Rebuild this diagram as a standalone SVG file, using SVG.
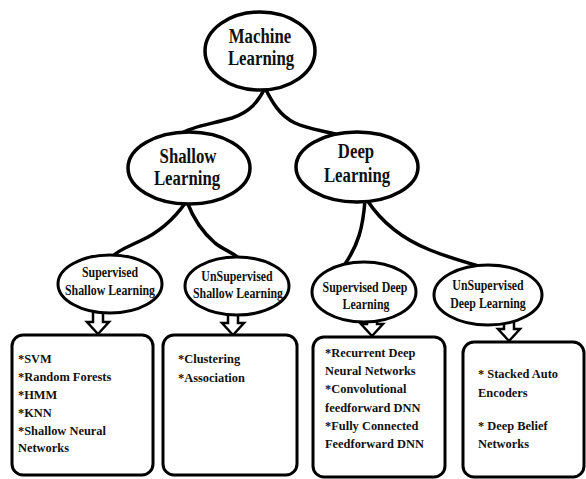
<svg xmlns="http://www.w3.org/2000/svg" width="586" height="479" viewBox="0 0 586 479">
<style>
  .bg { fill: #ffffff; }
  .node { fill: #ffffff; stroke: #000000; stroke-width: 3.5; }
  .snode { fill: #ffffff; stroke: #000000; stroke-width: 3; }
  .box { fill: #ffffff; stroke: #000000; stroke-width: 3; }
  .edge { fill: none; stroke: #000000; stroke-width: 3.5; stroke-linecap: round; }
  .arrow { fill: #ffffff; stroke: #000000; stroke-width: 2.5; stroke-linejoin: miter; }
  .big { font-family: "Liberation Serif", "Times New Roman", serif; font-weight: bold; font-size: 20px; fill: #111111; text-anchor: middle; }
  .mid { font-family: "Liberation Serif", "Times New Roman", serif; font-weight: bold; font-size: 14.5px; fill: #111111; text-anchor: middle; }
  .item { font-family: "Liberation Serif", "Times New Roman", serif; font-weight: bold; font-size: 13.5px; fill: #111111; }
</style>
<defs>
  <path id="down" d="M-5,-22 L5,-22 L5,-12 L11,-12 L0,0 L-11,-12 L-5,-12 Z"/>
</defs>
<rect class="bg" x="0" y="0" width="586" height="479"/>

<g id="connectors">
  <path class="edge" d="M265,88 C258,102 250,112 232,118 C212,124 192,126 180,134"/>
  <path class="edge" d="M265,88 C272,102 280,116 295,123 C308,129 320,130 335,134"/>
  <path class="edge" d="M186,202 C172,222 158,233 140,241 C128,247 118,250 112,257"/>
  <path class="edge" d="M187,202 C194,220 202,232 215,243 C224,250 232,252 240,259"/>
  <path class="edge" d="M365,200 C363,228 358,245 345,264"/>
  <path class="edge" d="M367,200 C380,220 400,238 430,250 C450,258 465,262 482,267"/>
  <use href="#down" class="arrow" transform="translate(98,334)"/>
  <use href="#down" class="arrow" transform="translate(233,335)"/>
  <use href="#down" class="arrow" transform="translate(372,336)"/>
  <use href="#down" class="arrow" transform="translate(509,341)"/>
</g>

<g id="machine-learning">
  <ellipse class="node" cx="260" cy="51" rx="55" ry="39"/>
  <text class="big" transform="translate(260,0) scale(0.84,1)" x="0" y="43">Machine</text>
  <text class="big" transform="translate(261,0) scale(0.84,1)" x="0" y="65">Learning</text>
</g>

<g id="shallow-learning">
  <ellipse class="node" cx="189" cy="168" rx="61" ry="36"/>
  <text class="big" transform="translate(188,0) scale(0.84,1)" x="0" y="163">Shallow</text>
  <text class="big" transform="translate(187,0) scale(0.84,1)" x="0" y="185">Learning</text>
</g>

<g id="deep-learning">
  <ellipse class="node" cx="357" cy="167" rx="61" ry="35"/>
  <text class="big" transform="translate(356,0) scale(0.84,1)" x="0" y="158">Deep</text>
  <text class="big" transform="translate(357,0) scale(0.84,1)" x="0" y="182">Learning</text>
</g>

<g id="supervised-shallow">
  <ellipse class="snode" cx="110" cy="284" rx="52" ry="29"/>
  <text class="mid" transform="translate(110,0) scale(0.82,1)" x="0" y="277">Supervised</text>
  <text class="mid" transform="translate(110,0) scale(0.82,1)" x="0" y="295">Shallow Learning</text>
</g>

<g id="unsupervised-shallow">
  <ellipse class="snode" cx="237" cy="286" rx="52" ry="29"/>
  <text class="mid" transform="translate(237,0) scale(0.82,1)" x="0" y="281">UnSupervised</text>
  <text class="mid" transform="translate(238,0) scale(0.82,1)" x="0" y="298">Shallow Learning</text>
</g>

<g id="supervised-deep">
  <ellipse class="snode" cx="364" cy="292" rx="52" ry="30"/>
  <text class="mid" transform="translate(365,0) scale(0.82,1)" x="0" y="292">Supervised Deep</text>
  <text class="mid" transform="translate(366,0) scale(0.82,1)" x="0" y="309">Learning</text>
</g>

<g id="unsupervised-deep">
  <ellipse class="snode" cx="488" cy="295" rx="54" ry="30"/>
  <text class="mid" transform="translate(488,0) scale(0.82,1)" x="0" y="290">UnSupervised</text>
  <text class="mid" transform="translate(488,0) scale(0.82,1)" x="0" y="308">Deep Learning</text>
</g>

<g id="box-supervised-shallow">
  <rect class="box" x="12" y="335" width="141" height="140" rx="11"/>
  <g transform="translate(18,0) scale(0.92,1)">
    <text class="item" x="0" y="363">*SVM</text>
    <text class="item" x="0" y="381">*Random Forests</text>
    <text class="item" x="0" y="399">*HMM</text>
    <text class="item" x="0" y="417">*KNN</text>
    <text class="item" x="0" y="435">*Shallow Neural</text>
    <text class="item" x="0" y="452">Networks</text>
  </g>
</g>

<g id="box-unsupervised-shallow">
  <rect class="box" x="163" y="335" width="134" height="140" rx="11"/>
  <g transform="translate(178,0) scale(0.92,1)">
    <text class="item" x="0" y="363">*Clustering</text>
    <text class="item" x="0" y="382">*Association</text>
  </g>
</g>

<g id="box-supervised-deep">
  <rect class="box" x="313" y="337" width="132" height="140" rx="11"/>
  <g transform="translate(325,0) scale(0.92,1)">
    <text class="item" x="0" y="357">*Recurrent Deep</text>
    <text class="item" x="0" y="375">Neural Networks</text>
    <text class="item" x="0" y="393">*Convolutional</text>
    <text class="item" x="0" y="412">feedforward DNN</text>
    <text class="item" x="0" y="430">*Fully Connected</text>
    <text class="item" x="0" y="448">Feedforward DNN</text>
  </g>
</g>

<g id="box-unsupervised-deep">
  <rect class="box" x="463" y="342" width="121" height="135" rx="11"/>
  <g transform="translate(478,0) scale(0.92,1)">
    <text class="item" x="0" y="378">* Stacked Auto</text>
    <text class="item" x="0" y="397">Encoders</text>
    <text class="item" x="0" y="430">* Deep Belief</text>
    <text class="item" x="0" y="448">Networks</text>
  </g>
</g>
</svg>
